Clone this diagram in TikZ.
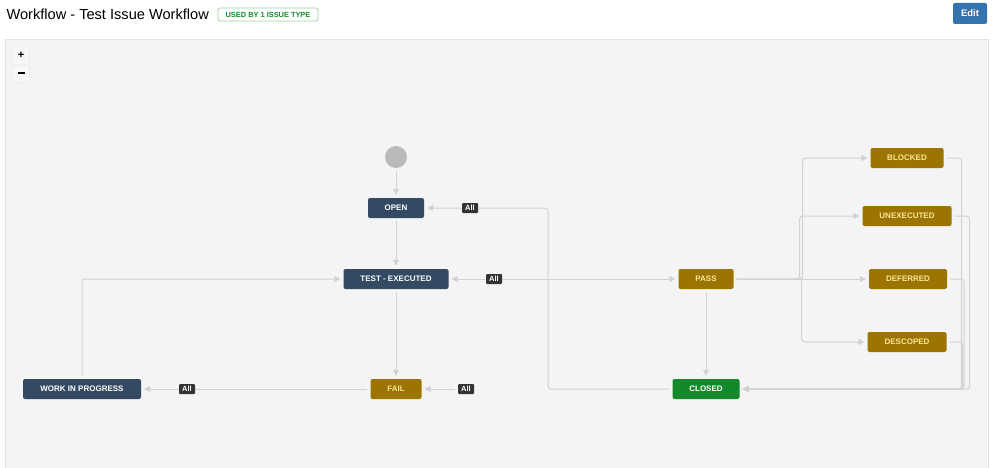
\documentclass[tikz,border=0pt]{standalone}
\usepackage{fontspec}
\setmainfont{Liberation Sans}
\usetikzlibrary{arrows.meta}
\definecolor{slate}{HTML}{344A63}
\definecolor{gold}{HTML}{9B7500}
\definecolor{paleyellow}{HTML}{FBE39A}
\definecolor{okgreen}{HTML}{14892C}
\definecolor{badgeline}{HTML}{9FD09F}
\definecolor{editblue}{HTML}{3572B0}
\definecolor{canvas}{HTML}{F4F4F4}
\definecolor{canvasline}{HTML}{E2E2E2}
\definecolor{linkgray}{HTML}{D2D2D2}
\definecolor{badge}{HTML}{333333}
\begin{document}
\begin{tikzpicture}[x=1pt, y=-1pt,
  state/.style={rounded corners=2pt, minimum height=20pt, inner sep=0pt, font=\fontsize{8}{9}\selectfont\bfseries},
  darkstate/.style={state, fill=slate, text=white},
  goldstate/.style={state, fill=gold, text=paleyellow},
  donestate/.style={state, fill=okgreen, text=white},
  allbadge/.style={fill=badge, text=white, rounded corners=1pt, inner sep=1.5pt, minimum width=16pt, minimum height=10pt, font=\fontsize{7.5}{8}\selectfont\bfseries},
  link/.style={draw=linkgray, line width=1pt, -{Triangle[length=6pt,width=6pt]}, rounded corners=3pt, shorten >=3pt, shorten <=3pt},
  zoombtn/.style={draw=canvasline, fill=white!97!black, rounded corners=2pt, minimum size=17pt, inner sep=0pt, font=\fontsize{11}{12}\selectfont\bfseries}]
\useasboundingbox (0,0) rectangle (998,468);
\draw[canvasline, fill=canvas] (5,39) rectangle (988,470);
\node[anchor=west, font=\fontsize{14.6}{17}\selectfont] (title) at (3,14) {Workflow - Test Issue Workflow};
\node[draw=badgeline, line width=0.8pt, text=okgreen, rounded corners=1.5pt, minimum width=100pt, minimum height=13pt, inner sep=0pt, font=\fontsize{7.4}{8}\selectfont\bfseries] (usedby) at (268,14.5) {USED BY 1 ISSUE TYPE};
\node[fill=editblue, text=white, rounded corners=2pt, minimum width=34pt, minimum height=21pt, inner sep=0pt, font=\fontsize{9.5}{10}\selectfont\bfseries] (edit) at (970,13.5) {Edit};
\node[zoombtn] (zoomin) at (21,55.5) {+};
\node[zoombtn] (zoomout) at (21,74) {\rule[2.5pt]{7pt}{1.6pt}};

\node[circle, fill=black!27, minimum size=22pt, inner sep=0pt] (start) at (396,157) {};
\node[darkstate, minimum width=56pt] (open) at (396,208) {OPEN};
\node[darkstate, minimum width=105pt] (test) at (396,279) {TEST - EXECUTED};
\node[goldstate, minimum width=51pt] (fail) at (396,389) {FAIL};
\node[darkstate, minimum width=118pt] (wip) at (82,389) {WORK IN PROGRESS};
\node[goldstate, minimum width=55pt] (pass) at (706,279) {PASS};
\node[donestate, minimum width=67pt] (closed) at (706,389) {CLOSED};
\node[goldstate, minimum width=73pt] (blocked) at (907,158) {BLOCKED};
\node[goldstate, minimum width=89pt] (unexec) at (907,216) {UNEXECUTED};
\node[goldstate, minimum width=78pt] (deferred) at (908,279) {DEFERRED};
\node[goldstate, minimum width=79pt] (descoped) at (907,342) {DESCOPED};
\coordinate (reopen) at (548,208);
\coordinate (back) at (82,279);

\draw[link] (start) -- (open);
\draw[link] (open) -- (test);
\draw[link] (test) -- (fail);
\draw[link] (test) -- (pass);
\draw[link] (pass) -- (closed);
\draw[link] (closed) -| (reopen) -- (open);
\draw[link] (wip) -- (back) -- (test);
\draw[link] (fail) -- (wip);
\draw[link] (pass.east) -- ++(69,0) |- (blocked);
\draw[link] (pass.east) -- ++(66,0) |- (unexec);
\draw[link] (pass) -- (deferred);
\draw[link] (pass.east) -- ++(68,0) |- (descoped);
\draw[link] (blocked.east) -- ++(18,0) |- (closed);
\draw[link] (unexec.east) -- ++(18,0) |- (closed);
\draw[link] (deferred.east) -- ++(17,0) |- (closed);
\draw[link] (descoped.east) -- ++(16,0) |- (closed);

\node[allbadge] (allopen) at (470,208) {All};
\node[allbadge] (alltest) at (494,279) {All};
\node[allbadge] (allfail) at (466,389) {All};
\node[allbadge] (allwip) at (187,389) {All};
\draw[link] (alltest) -- (test);
\draw[link] (allfail) -- (fail);
\end{tikzpicture}
\end{document}
